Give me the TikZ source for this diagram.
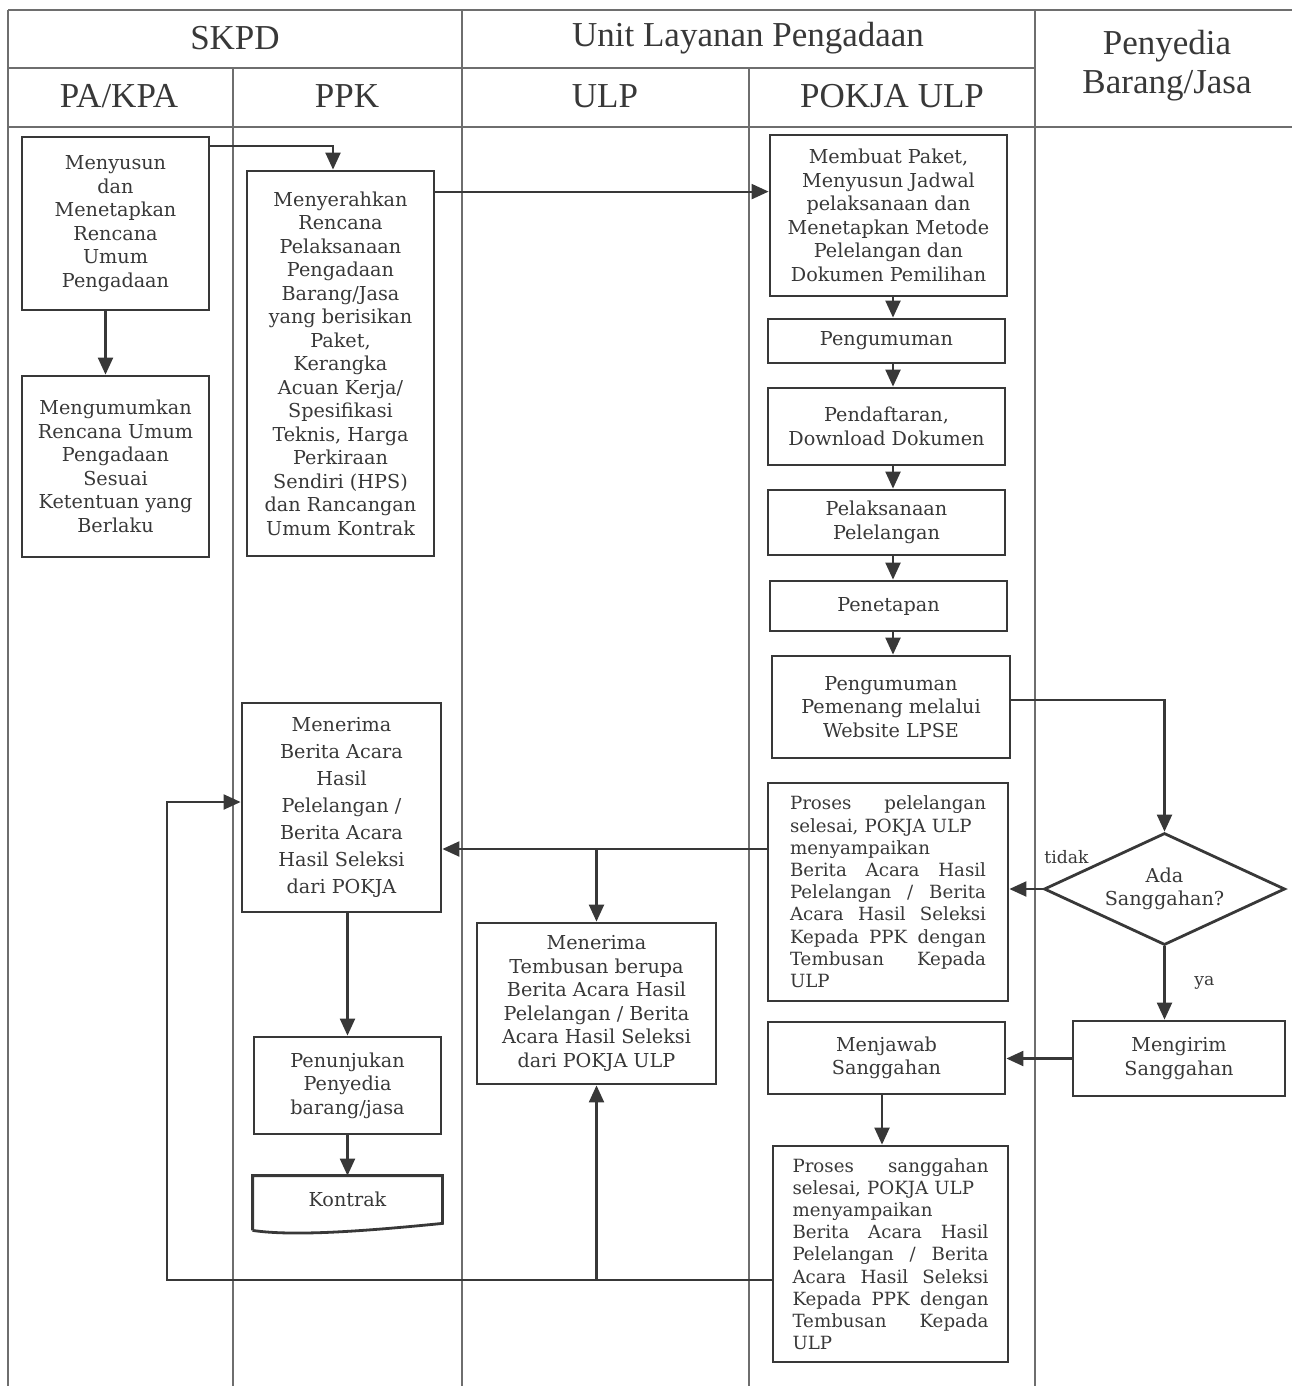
\documentclass[tikz,border=0pt]{standalone}
\usepackage{fontspec}
\setmainfont{DejaVu Serif}
\newfontfamily\headfont{Liberation Serif}
\usepackage{tikz}
\usetikzlibrary{arrows.meta,shapes.geometric}
\definecolor{ink}{HTML}{383838}
\definecolor{lane}{HTML}{6E6E6E}
\newlength{\jw}
\setlength{\jw}{98pt}
\newcommand{\jrow}[1]{\leavevmode\hbox to \jw{#1}}

\begin{document}
\begin{tikzpicture}[x=0.5pt, y=-0.5pt,
  proc/.style={draw=ink, line width=1.4pt, align=center, text=ink, inner sep=2pt,
               font=\fontsize{9.6}{11.75}\selectfont},
  note/.style={proc, align=left, text width=\jw, font=\fontsize{9.1}{11.1}\selectfont},
  choice/.style={diamond, draw=ink, line width=1.4pt, text=ink, align=center,
                 aspect=2.15, inner sep=0pt, font=\fontsize{9.6}{11.75}\selectfont},
  head/.style={text=ink, align=center, font=\headfont\fontsize{17.5}{19.5}\selectfont},
  lanes/.style={draw=lane, line width=0.8pt},
  arr/.style={-{Triangle[length=8.5pt, width=7.5pt]}, line width=1.1pt, ink},
  lbl/.style={text=ink, font=\fontsize{8.6}{10}\selectfont}
]
  \useasboundingbox (0,0) rectangle (1292,1386);
  % Swimlanes
  \draw[lanes] (8,10) -- (1292,10);
  \draw[lanes] (8,68) -- (1035,68);
  \draw[lanes] (8,127) -- (1292,127);
  \foreach \x in {8,462,1035} \draw[lanes] (\x,10) -- (\x,1386);
  \foreach \x in {233,749} \draw[lanes] (\x,68) -- (\x,1386);
  \node[head] (hskpd) at (235,38) {SKPD};
  \node[head] (hulp) at (748,38) {Unit Layanan Pengadaan};
  \node[head] (hvendor) at (1167,66) {Penyedia\\Barang/Jasa};
  \node[head] (hpa) at (119,96) {PA/KPA};
  \node[head] (hppk) at (347,96) {PPK};
  \node[head] (hulpa) at (605,96) {ULP};
  \node[head] (hpokja) at (892,96) {POKJA ULP};

  % PA/KPA
  \node[proc, minimum width=93.5pt, minimum height=86.5pt] (rup) at (115.5,223.5)
    {Menyusun\\dan\\Menetapkan\\Rencana\\Umum\\Pengadaan};
  \node[proc, minimum width=93.5pt, minimum height=90.5pt] (umum) at (115.5,466.5)
    {Mengumumkan\\Rencana Umum\\Pengadaan\\Sesuai\\Ketentuan yang\\Berlaku};
  % PPK
  \node[proc, minimum width=93.5pt, minimum height=192.5pt] (rpp) at (340.5,363.5)
    {Menyerahkan\\Rencana\\Pelaksanaan\\Pengadaan\\Barang/Jasa\\yang berisikan\\Paket,\\Kerangka\\Acuan Kerja/\\Spesifikasi\\Teknis, Harga\\Perkiraan\\Sendiri (HPS)\\dan Rancangan\\Umum Kontrak};
  \node[proc, minimum width=99.5pt, minimum height=104.5pt,
        font=\fontsize{9.6}{13.5}\selectfont] (terima) at (341.5,807.5)
    {Menerima\\Berita Acara\\Hasil\\Pelelangan /\\Berita Acara\\Hasil Seleksi\\dari POKJA};
  \node[proc, minimum width=93.5pt, minimum height=48.5pt] (tunjuk) at (347.5,1085.5)
    {Penunjukan\\Penyedia\\barang/jasa};
  \node[proc, draw=none, minimum width=93.5pt, minimum height=22.5pt] (kontrak) at (347.5,1199.5)
    {Kontrak};
  \draw[ink, line width=1.4pt] ([yshift=-3.5pt]kontrak.south west) -- (kontrak.north west)
    -- (kontrak.north east) -- (kontrak.south east)
    .. controls +(-40pt,-4pt) and +(20pt,-3pt) .. ([yshift=-3.5pt]kontrak.south west);
  % ULP
  \node[proc, minimum width=119.5pt, minimum height=80.5pt] (tembusan) at (596.5,1003.5)
    {Menerima\\Tembusan berupa\\Berita Acara Hasil\\Pelelangan / Berita\\Acara Hasil Seleksi\\dari POKJA ULP};
  % POKJA ULP
  \node[proc, minimum width=118.5pt, minimum height=80.5pt] (paket) at (888.5,215.5)
    {Membuat Paket,\\Menyusun Jadwal\\pelaksanaan dan\\Menetapkan Metode\\Pelelangan dan\\Dokumen Pemilihan};
  \node[proc, minimum width=118.5pt, minimum height=22pt] (umumkan) at (886.5,341)
    {Pengumuman};
  \node[proc, minimum width=118.5pt, minimum height=38.5pt] (daftar) at (886.5,426.5)
    {Pendaftaran,\\Download Dokumen};
  \node[proc, minimum width=118.5pt, minimum height=32.5pt] (lelang) at (886.5,522.5)
    {Pelaksanaan\\Pelelangan};
  \node[proc, minimum width=118.5pt, minimum height=25pt] (tetap) at (888.5,606)
    {Penetapan};
  \node[proc, minimum width=119pt, minimum height=51pt] (menang) at (891,707)
    {Pengumuman\\Pemenang melalui\\Website LPSE};
  \node[note, minimum width=120pt, minimum height=109pt] (selesai) at (888,892)
    {\jrow{Proses\hfill pelelangan}\\selesai, POKJA ULP\\menyampaikan\\\jrow{Berita\hfill Acara\hfill Hasil}\\\jrow{Pelelangan\hfill /\hfill Berita}\\\jrow{Acara\hfill Hasil\hfill Seleksi}\\\jrow{Kepada\hfill PPK\hfill dengan}\\\jrow{Tembusan\hfill Kepada}\\ULP};
  \node[proc, minimum width=118.5pt, minimum height=36pt] (jawab) at (886.5,1058)
    {Menjawab\\Sanggahan};
  \node[note, minimum width=117.5pt, minimum height=108pt] (sanggah) at (890.5,1254)
    {\jrow{Proses\hfill sanggahan}\\selesai, POKJA ULP\\menyampaikan\\\jrow{Berita\hfill Acara\hfill Hasil}\\\jrow{Pelelangan\hfill /\hfill Berita}\\\jrow{Acara\hfill Hasil\hfill Seleksi}\\\jrow{Kepada\hfill PPK\hfill dengan}\\\jrow{Tembusan\hfill Kepada}\\ULP};
  % Penyedia
  \node[choice, minimum width=120.5pt, minimum height=56pt] (ada) at (1164.5,889)
    {Ada\\Sanggahan?};
  \node[proc, minimum width=106pt, minimum height=37.5pt] (kirim) at (1179,1058.5)
    {Mengirim\\Sanggahan};

  % Flow
  \coordinate (kx) at (893,0);
  \draw[arr] ([yshift=-5pt]rup.north east) -| ([xshift=-3.75pt]rpp.north);
  \draw[arr] ([xshift=-5pt]rup.south) -- ([xshift=-5pt]umum.north);
  \coordinate (rppout) at ([yshift=-11pt]rpp.north east);
  \draw[arr] (rppout) -- (rppout -| paket.west);
  \draw[arr] (paket.south -| kx) -- (umumkan.north -| kx);
  \draw[arr] (umumkan.south -| kx) -- (daftar.north -| kx);
  \draw[arr] (daftar.south -| kx) -- (lelang.north -| kx);
  \draw[arr] (lelang.south -| kx) -- (tetap.north -| kx);
  \draw[arr] (tetap.south -| kx) -- (menang.north -| kx);
  \draw[arr] ([yshift=3.5pt]menang.east) -| (ada.north);
  \draw[arr] (ada.west) -- node[lbl, at start, anchor=south west, yshift=9pt, xshift=-3pt] {tidak} (ada.west -| selesai.east);
  \draw[arr] (ada.south) -- node[lbl, midway, right=11pt] {ya} (ada.south |- kirim.north);
  \draw[arr] (kirim.west) -- (kirim.west -| jawab.east);
  \draw[arr] ([xshift=-2.25pt]jawab.south) -- ([xshift=-2.25pt]jawab.south |- sanggah.north);
  \coordinate (selout) at ([yshift=21.5pt]selesai.west);
  \draw[arr] (selout) -- (selout -| terima.east);
  \draw[arr] (selout -| tembusan.north) -- (tembusan.north);
  \coordinate (sangout) at ([yshift=-13pt]sanggah.west);
  \draw[arr] (sangout) -| ([xshift=-37pt, yshift=2.75pt]terima.west) -- ([yshift=2.75pt]terima.west);
  \draw[arr] (sangout -| tembusan.south) -- (tembusan.south);
  \draw[arr] (terima.south -| tunjuk.north) -- (tunjuk.north);
  \draw[arr] (tunjuk.south) -- (kontrak.north);
\end{tikzpicture}
\end{document}
